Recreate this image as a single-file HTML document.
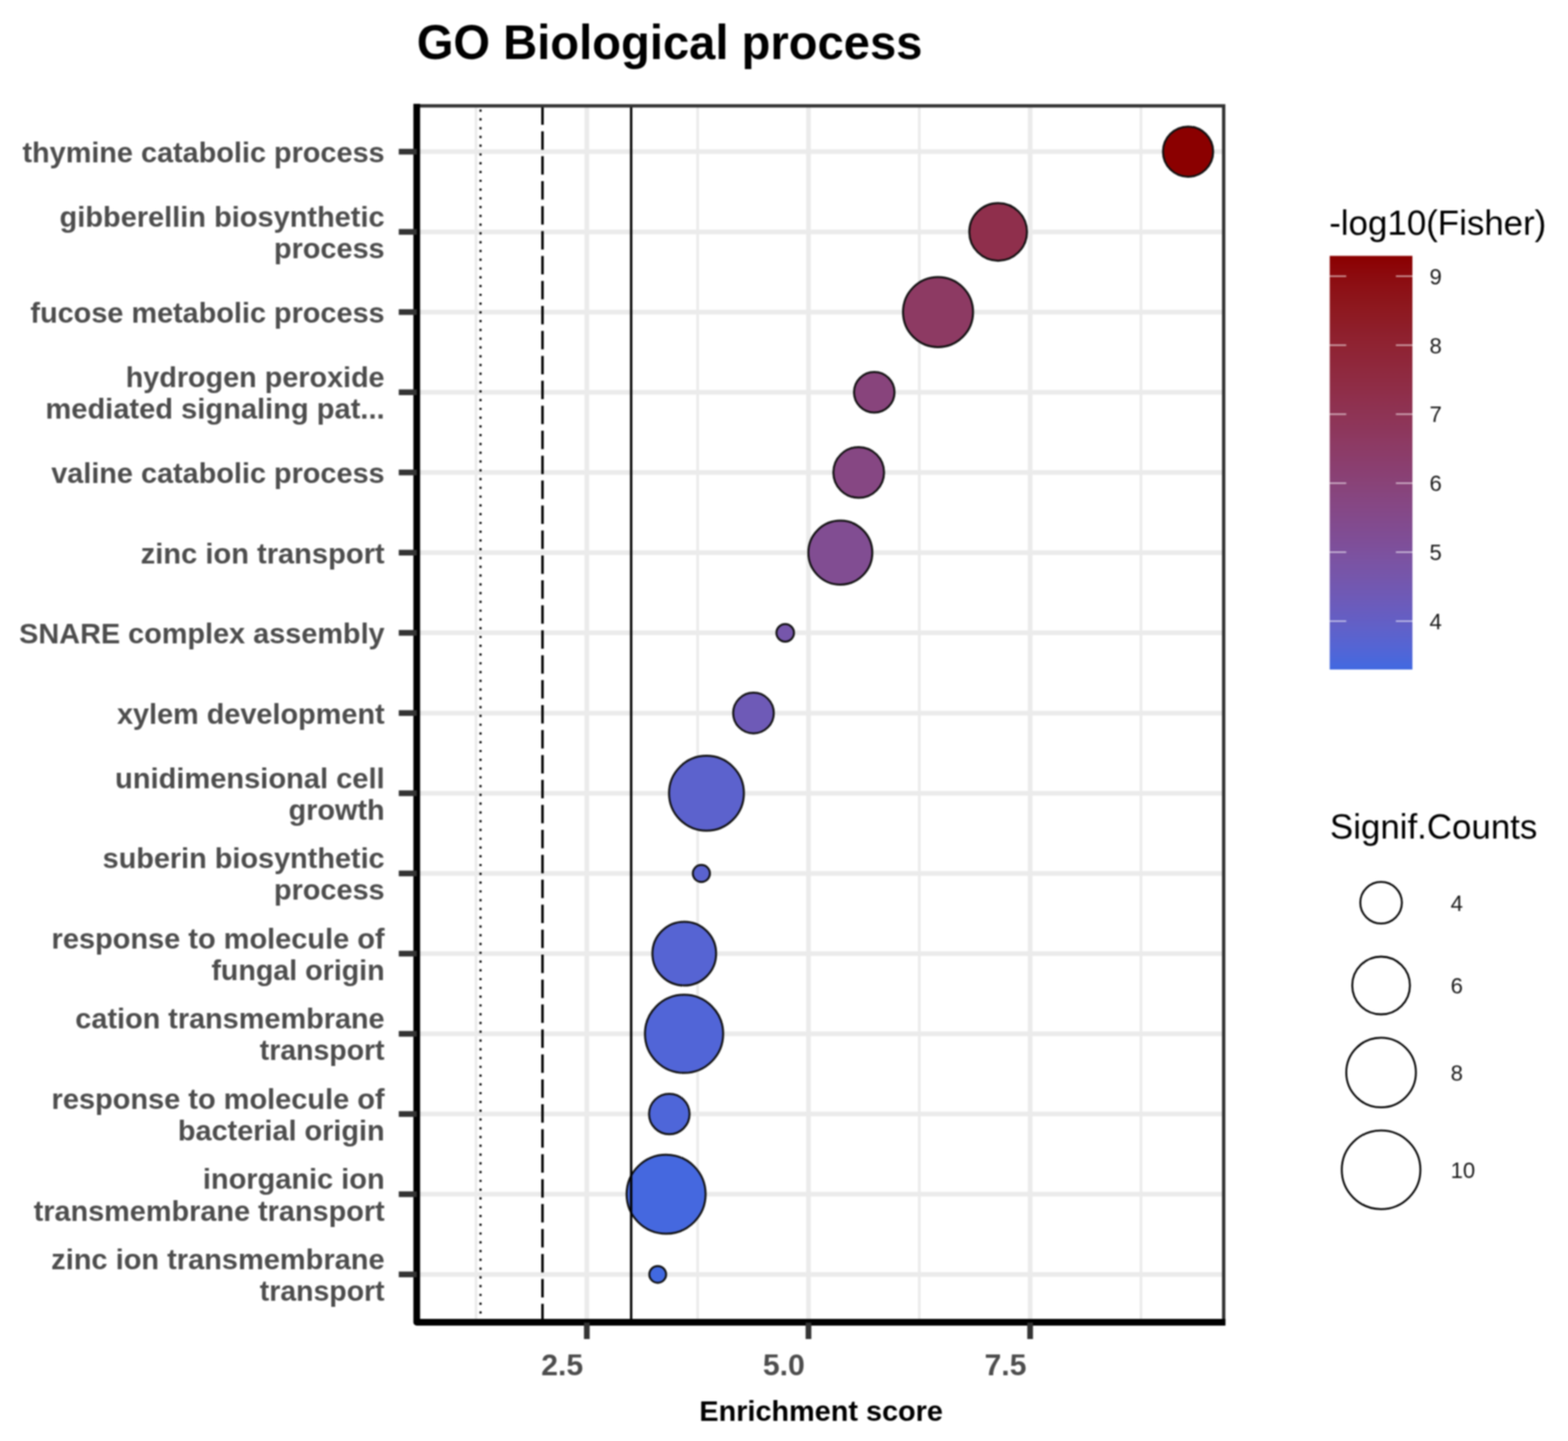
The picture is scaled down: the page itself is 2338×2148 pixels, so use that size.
<!DOCTYPE html>
<html><head><meta charset="utf-8"><title>GO Biological process</title>
<style>html,body{margin:0;padding:0;background:#fff;} body{width:2338px;height:2148px;overflow:hidden;}</style>
</head><body>
<svg width="2338" height="2148" viewBox="0 0 2338 2148" style="display:block;filter:blur(1px)">
<rect x="0" y="0" width="2338" height="2148" fill="#ffffff"/>
<text x="621.4" y="87.8" font-family='"Liberation Sans", Arial, Helvetica, sans-serif' font-weight="bold" font-size="73" fill="#000" textLength="754" lengthAdjust="spacingAndGlyphs">GO Biological process</text>
<line x1="709.75" y1="157.8" x2="709.75" y2="1971.5" stroke="#ebebeb" stroke-width="4"/>
<line x1="1040.25" y1="157.8" x2="1040.25" y2="1971.5" stroke="#ebebeb" stroke-width="4"/>
<line x1="1370.75" y1="157.8" x2="1370.75" y2="1971.5" stroke="#ebebeb" stroke-width="4"/>
<line x1="1701.25" y1="157.8" x2="1701.25" y2="1971.5" stroke="#ebebeb" stroke-width="4"/>
<line x1="875.00" y1="157.8" x2="875.00" y2="1971.5" stroke="#ebebeb" stroke-width="7"/>
<line x1="1205.50" y1="157.8" x2="1205.50" y2="1971.5" stroke="#ebebeb" stroke-width="7"/>
<line x1="1536.00" y1="157.8" x2="1536.00" y2="1971.5" stroke="#ebebeb" stroke-width="7"/>
<line x1="621.4" y1="226.10" x2="1824.6" y2="226.10" stroke="#ebebeb" stroke-width="7"/>
<line x1="621.4" y1="345.64" x2="1824.6" y2="345.64" stroke="#ebebeb" stroke-width="7"/>
<line x1="621.4" y1="465.18" x2="1824.6" y2="465.18" stroke="#ebebeb" stroke-width="7"/>
<line x1="621.4" y1="584.72" x2="1824.6" y2="584.72" stroke="#ebebeb" stroke-width="7"/>
<line x1="621.4" y1="704.26" x2="1824.6" y2="704.26" stroke="#ebebeb" stroke-width="7"/>
<line x1="621.4" y1="823.80" x2="1824.6" y2="823.80" stroke="#ebebeb" stroke-width="7"/>
<line x1="621.4" y1="943.34" x2="1824.6" y2="943.34" stroke="#ebebeb" stroke-width="7"/>
<line x1="621.4" y1="1062.88" x2="1824.6" y2="1062.88" stroke="#ebebeb" stroke-width="7"/>
<line x1="621.4" y1="1182.42" x2="1824.6" y2="1182.42" stroke="#ebebeb" stroke-width="7"/>
<line x1="621.4" y1="1301.96" x2="1824.6" y2="1301.96" stroke="#ebebeb" stroke-width="7"/>
<line x1="621.4" y1="1421.50" x2="1824.6" y2="1421.50" stroke="#ebebeb" stroke-width="7"/>
<line x1="621.4" y1="1541.04" x2="1824.6" y2="1541.04" stroke="#ebebeb" stroke-width="7"/>
<line x1="621.4" y1="1660.58" x2="1824.6" y2="1660.58" stroke="#ebebeb" stroke-width="7"/>
<line x1="621.4" y1="1780.12" x2="1824.6" y2="1780.12" stroke="#ebebeb" stroke-width="7"/>
<line x1="621.4" y1="1899.66" x2="1824.6" y2="1899.66" stroke="#ebebeb" stroke-width="7"/>
<circle cx="1771.5" cy="226.10" r="37.40" fill="#8b0000" stroke="#111" stroke-width="3.0"/>
<circle cx="1488.3" cy="345.64" r="43.00" fill="#8f2f4c" stroke="#111" stroke-width="3.0"/>
<circle cx="1398.7" cy="465.18" r="52.20" fill="#8d3a63" stroke="#111" stroke-width="3.0"/>
<circle cx="1303.6" cy="584.72" r="30.20" fill="#88447c" stroke="#111" stroke-width="3.0"/>
<circle cx="1280.4" cy="704.26" r="37.80" fill="#864783" stroke="#111" stroke-width="3.0"/>
<circle cx="1253.0" cy="823.80" r="47.70" fill="#814d92" stroke="#111" stroke-width="3.0"/>
<circle cx="1170.8" cy="943.34" r="13.10" fill="#7656ab" stroke="#111" stroke-width="3.0"/>
<circle cx="1123.5" cy="1062.88" r="30.30" fill="#6e5ab7" stroke="#111" stroke-width="3.0"/>
<circle cx="1053.4" cy="1182.42" r="55.80" fill="#5c62cd" stroke="#111" stroke-width="3.0"/>
<circle cx="1045.8" cy="1301.96" r="12.70" fill="#5a63cf" stroke="#111" stroke-width="3.0"/>
<circle cx="1020.3" cy="1421.50" r="47.50" fill="#5664d3" stroke="#111" stroke-width="3.0"/>
<circle cx="1020.0" cy="1541.04" r="58.30" fill="#5165d7" stroke="#111" stroke-width="3.0"/>
<circle cx="998.0" cy="1660.58" r="30.20" fill="#4e66d9" stroke="#111" stroke-width="3.0"/>
<circle cx="993.2" cy="1780.12" r="58.90" fill="#4568df" stroke="#111" stroke-width="3.0"/>
<circle cx="980.7" cy="1899.66" r="12.50" fill="#4169e1" stroke="#111" stroke-width="3.0"/>
<line x1="716.50" y1="1971.1" x2="716.50" y2="157.8" stroke="#000" stroke-width="3.2" stroke-dasharray="3.2 9.877"/>
<line x1="808.90" y1="1971.1" x2="808.90" y2="157.8" stroke="#000" stroke-width="3.7" stroke-dasharray="27.5 9.69"/>
<line x1="941.10" y1="1971.1" x2="941.10" y2="157.8" stroke="#000" stroke-width="3.5"/>
<rect x="621.4" y="157.8" width="1203.1999999999998" height="1813.7" fill="none" stroke="#333" stroke-width="5"/>
<path d="M621.4,154.8 L621.4,1970.9 L1827.2,1970.9" fill="none" stroke="#000" stroke-width="10" stroke-linejoin="round"/>
<line x1="594.6" y1="226.10" x2="621.4" y2="226.10" stroke="#333" stroke-width="8.5"/>
<line x1="594.6" y1="345.64" x2="621.4" y2="345.64" stroke="#333" stroke-width="8.5"/>
<line x1="594.6" y1="465.18" x2="621.4" y2="465.18" stroke="#333" stroke-width="8.5"/>
<line x1="594.6" y1="584.72" x2="621.4" y2="584.72" stroke="#333" stroke-width="8.5"/>
<line x1="594.6" y1="704.26" x2="621.4" y2="704.26" stroke="#333" stroke-width="8.5"/>
<line x1="594.6" y1="823.80" x2="621.4" y2="823.80" stroke="#333" stroke-width="8.5"/>
<line x1="594.6" y1="943.34" x2="621.4" y2="943.34" stroke="#333" stroke-width="8.5"/>
<line x1="594.6" y1="1062.88" x2="621.4" y2="1062.88" stroke="#333" stroke-width="8.5"/>
<line x1="594.6" y1="1182.42" x2="621.4" y2="1182.42" stroke="#333" stroke-width="8.5"/>
<line x1="594.6" y1="1301.96" x2="621.4" y2="1301.96" stroke="#333" stroke-width="8.5"/>
<line x1="594.6" y1="1421.50" x2="621.4" y2="1421.50" stroke="#333" stroke-width="8.5"/>
<line x1="594.6" y1="1541.04" x2="621.4" y2="1541.04" stroke="#333" stroke-width="8.5"/>
<line x1="594.6" y1="1660.58" x2="621.4" y2="1660.58" stroke="#333" stroke-width="8.5"/>
<line x1="594.6" y1="1780.12" x2="621.4" y2="1780.12" stroke="#333" stroke-width="8.5"/>
<line x1="594.6" y1="1899.66" x2="621.4" y2="1899.66" stroke="#333" stroke-width="8.5"/>
<line x1="875.00" y1="1971.5" x2="875.00" y2="1996" stroke="#333" stroke-width="8.5"/>
<line x1="1205.50" y1="1971.5" x2="1205.50" y2="1996" stroke="#333" stroke-width="8.5"/>
<line x1="1536.00" y1="1971.5" x2="1536.00" y2="1996" stroke="#333" stroke-width="8.5"/>
<g font-family='"Liberation Sans", Arial, Helvetica, sans-serif' font-weight="bold" font-size="43" fill="#4d4d4d" text-anchor="end">
<text x="573.5" y="241.90">thymine catabolic process</text>
<text x="573.5" y="337.84" textLength="484.62" lengthAdjust="spacingAndGlyphs">gibberellin biosynthetic</text>
<text x="573.5" y="385.04">process</text>
<text x="573.5" y="480.98">fucose metabolic process</text>
<text x="573.5" y="576.92" textLength="386.08" lengthAdjust="spacingAndGlyphs">hydrogen peroxide</text>
<text x="573.5" y="624.12" textLength="505.75" lengthAdjust="spacingAndGlyphs">mediated signaling pat...</text>
<text x="573.5" y="720.06">valine catabolic process</text>
<text x="573.5" y="839.60" textLength="363.73" lengthAdjust="spacingAndGlyphs">zinc ion transport</text>
<text x="573.5" y="959.14">SNARE complex assembly</text>
<text x="573.5" y="1078.68">xylem development</text>
<text x="573.5" y="1174.62" textLength="402.03" lengthAdjust="spacingAndGlyphs">unidimensional cell</text>
<text x="573.5" y="1221.82">growth</text>
<text x="573.5" y="1294.16">suberin biosynthetic</text>
<text x="573.5" y="1341.36">process</text>
<text x="573.5" y="1413.70" textLength="496.61" lengthAdjust="spacingAndGlyphs">response to molecule of</text>
<text x="573.5" y="1460.90" textLength="258.36" lengthAdjust="spacingAndGlyphs">fungal origin</text>
<text x="573.5" y="1533.24">cation transmembrane</text>
<text x="573.5" y="1580.44" textLength="186.23" lengthAdjust="spacingAndGlyphs">transport</text>
<text x="573.5" y="1652.78" textLength="496.61" lengthAdjust="spacingAndGlyphs">response to molecule of</text>
<text x="573.5" y="1699.98">bacterial origin</text>
<text x="573.5" y="1772.32" textLength="270.95" lengthAdjust="spacingAndGlyphs">inorganic ion</text>
<text x="573.5" y="1819.52">transmembrane transport</text>
<text x="573.5" y="1891.86" textLength="497.14" lengthAdjust="spacingAndGlyphs">zinc ion transmembrane</text>
<text x="573.5" y="1939.06" textLength="186.23" lengthAdjust="spacingAndGlyphs">transport</text>
</g>
<g font-family='"Liberation Sans", Arial, Helvetica, sans-serif' font-weight="bold" font-size="45" fill="#4d4d4d" text-anchor="middle">
<text x="838.30" y="2050">2.5</text>
<text x="1168.80" y="2050">5.0</text>
<text x="1499.30" y="2050">7.5</text>
</g>
<text x="1224.4" y="2117.5" font-family='"Liberation Sans", Arial, Helvetica, sans-serif' font-weight="bold" font-size="43" fill="#000" text-anchor="middle">Enrichment score</text>
<text x="1982" y="350.2" font-family='"Liberation Sans", Arial, Helvetica, sans-serif' font-size="52" fill="#000">-log10(Fisher)</text>
<defs><linearGradient id="cb" x1="0" y1="1" x2="0" y2="0">
<stop offset="0.0000" stop-color="#4169e1"/>
<stop offset="0.0250" stop-color="#4b67db"/>
<stop offset="0.0500" stop-color="#5365d5"/>
<stop offset="0.0750" stop-color="#5a63cf"/>
<stop offset="0.1000" stop-color="#6061c9"/>
<stop offset="0.1250" stop-color="#655ec3"/>
<stop offset="0.1500" stop-color="#6a5cbd"/>
<stop offset="0.1750" stop-color="#6e5ab7"/>
<stop offset="0.2000" stop-color="#7258b1"/>
<stop offset="0.2250" stop-color="#7656ab"/>
<stop offset="0.2500" stop-color="#7954a6"/>
<stop offset="0.2750" stop-color="#7c52a0"/>
<stop offset="0.3000" stop-color="#7e4f9a"/>
<stop offset="0.3250" stop-color="#804d94"/>
<stop offset="0.3500" stop-color="#824b8f"/>
<stop offset="0.3750" stop-color="#844989"/>
<stop offset="0.4000" stop-color="#864784"/>
<stop offset="0.4250" stop-color="#87457e"/>
<stop offset="0.4500" stop-color="#894378"/>
<stop offset="0.4750" stop-color="#8a4073"/>
<stop offset="0.5000" stop-color="#8b3e6e"/>
<stop offset="0.5250" stop-color="#8c3c68"/>
<stop offset="0.5500" stop-color="#8d3a63"/>
<stop offset="0.5750" stop-color="#8d375d"/>
<stop offset="0.6000" stop-color="#8e3558"/>
<stop offset="0.6250" stop-color="#8e3353"/>
<stop offset="0.6500" stop-color="#8f304e"/>
<stop offset="0.6750" stop-color="#8f2e48"/>
<stop offset="0.7000" stop-color="#8f2b43"/>
<stop offset="0.7250" stop-color="#8f293e"/>
<stop offset="0.7500" stop-color="#8f2639"/>
<stop offset="0.7750" stop-color="#8f2434"/>
<stop offset="0.8000" stop-color="#8f212f"/>
<stop offset="0.8250" stop-color="#8e1e2a"/>
<stop offset="0.8500" stop-color="#8e1b24"/>
<stop offset="0.8750" stop-color="#8e181f"/>
<stop offset="0.9000" stop-color="#8d141a"/>
<stop offset="0.9250" stop-color="#8d1015"/>
<stop offset="0.9500" stop-color="#8c0b0f"/>
<stop offset="0.9750" stop-color="#8c0508"/>
<stop offset="1.0000" stop-color="#8b0000"/>
</linearGradient></defs>
<rect x="1982.7" y="381.4" width="123.30" height="616.60" fill="url(#cb)"/>
<line x1="1982.7" y1="925.90" x2="2007.36" y2="925.90" stroke="#fff" stroke-opacity="0.6" stroke-width="2.2"/>
<line x1="2081.34" y1="925.90" x2="2106.0" y2="925.90" stroke="#fff" stroke-opacity="0.6" stroke-width="2.2"/>
<line x1="1982.7" y1="823.06" x2="2007.36" y2="823.06" stroke="#fff" stroke-opacity="0.6" stroke-width="2.2"/>
<line x1="2081.34" y1="823.06" x2="2106.0" y2="823.06" stroke="#fff" stroke-opacity="0.6" stroke-width="2.2"/>
<line x1="1982.7" y1="720.22" x2="2007.36" y2="720.22" stroke="#fff" stroke-opacity="0.6" stroke-width="2.2"/>
<line x1="2081.34" y1="720.22" x2="2106.0" y2="720.22" stroke="#fff" stroke-opacity="0.6" stroke-width="2.2"/>
<line x1="1982.7" y1="617.38" x2="2007.36" y2="617.38" stroke="#fff" stroke-opacity="0.6" stroke-width="2.2"/>
<line x1="2081.34" y1="617.38" x2="2106.0" y2="617.38" stroke="#fff" stroke-opacity="0.6" stroke-width="2.2"/>
<line x1="1982.7" y1="514.54" x2="2007.36" y2="514.54" stroke="#fff" stroke-opacity="0.6" stroke-width="2.2"/>
<line x1="2081.34" y1="514.54" x2="2106.0" y2="514.54" stroke="#fff" stroke-opacity="0.6" stroke-width="2.2"/>
<line x1="1982.7" y1="411.70" x2="2007.36" y2="411.70" stroke="#fff" stroke-opacity="0.6" stroke-width="2.2"/>
<line x1="2081.34" y1="411.70" x2="2106.0" y2="411.70" stroke="#fff" stroke-opacity="0.6" stroke-width="2.2"/>
<g font-family='"Liberation Sans", Arial, Helvetica, sans-serif' font-size="33" fill="#1a1a1a">
<text x="2131.5" y="937.90">4</text>
<text x="2131.5" y="835.06">5</text>
<text x="2131.5" y="732.22">6</text>
<text x="2131.5" y="629.38">7</text>
<text x="2131.5" y="526.54">8</text>
<text x="2131.5" y="423.70">9</text>
</g>
<text x="1983" y="1250" font-family='"Liberation Sans", Arial, Helvetica, sans-serif' font-size="52" fill="#000">Signif.Counts</text>
<circle cx="2059.3" cy="1345.6" r="31.00" fill="#fff" stroke="#000" stroke-width="2.8"/>
<text x="2163" y="1357.60" font-family='"Liberation Sans", Arial, Helvetica, sans-serif' font-size="33" fill="#1a1a1a">4</text>
<circle cx="2059.3" cy="1469" r="43.00" fill="#fff" stroke="#000" stroke-width="2.8"/>
<text x="2163" y="1481.00" font-family='"Liberation Sans", Arial, Helvetica, sans-serif' font-size="33" fill="#1a1a1a">6</text>
<circle cx="2059.3" cy="1598.7" r="51.90" fill="#fff" stroke="#000" stroke-width="2.8"/>
<text x="2163" y="1610.70" font-family='"Liberation Sans", Arial, Helvetica, sans-serif' font-size="33" fill="#1a1a1a">8</text>
<circle cx="2059.3" cy="1743.7" r="58.60" fill="#fff" stroke="#000" stroke-width="2.8"/>
<text x="2163" y="1755.70" font-family='"Liberation Sans", Arial, Helvetica, sans-serif' font-size="33" fill="#1a1a1a">10</text>
</svg>
</body></html>
